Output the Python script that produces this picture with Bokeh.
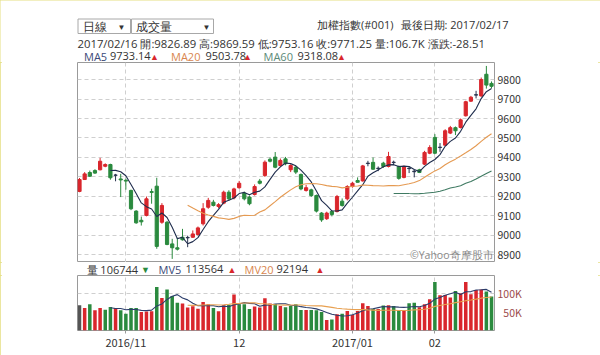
import pandas as pd
from bokeh.plotting import figure
from bokeh.models import Range1d, FixedTicker, ColumnDataSource, Label, Grid
from bokeh.layouts import column, row
from bokeh.embed import file_html
from bokeh.resources import INLINE
from bokeh.core.properties import value

# ---------------- data ----------------
dates = [
    "2016/10/19", "2016/10/20", "2016/10/21", "2016/10/24", "2016/10/25", "2016/10/26", "2016/10/27", "2016/10/28", "2016/10/31",
    "2016/11/01", "2016/11/02", "2016/11/03", "2016/11/04", "2016/11/07", "2016/11/08", "2016/11/09", "2016/11/10", "2016/11/11",
    "2016/11/14", "2016/11/15", "2016/11/16", "2016/11/17", "2016/11/18", "2016/11/21", "2016/11/22", "2016/11/23", "2016/11/24",
    "2016/11/25", "2016/11/28", "2016/11/29", "2016/11/30",
    "2016/12/01", "2016/12/02", "2016/12/05", "2016/12/06", "2016/12/07", "2016/12/08", "2016/12/09", "2016/12/12", "2016/12/13",
    "2016/12/14", "2016/12/15", "2016/12/16", "2016/12/19", "2016/12/20", "2016/12/21", "2016/12/22", "2016/12/23", "2016/12/26",
    "2016/12/27", "2016/12/28", "2016/12/29", "2016/12/30",
    "2017/01/03", "2017/01/04", "2017/01/05", "2017/01/06", "2017/01/09", "2017/01/10", "2017/01/11", "2017/01/12", "2017/01/13",
    "2017/01/16", "2017/01/17", "2017/01/18", "2017/01/19", "2017/01/20", "2017/01/23", "2017/01/24",
    "2017/02/02", "2017/02/03", "2017/02/06", "2017/02/07", "2017/02/08", "2017/02/09", "2017/02/10", "2017/02/13", "2017/02/14",
    "2017/02/15", "2017/02/16", "2017/02/17",
]

opens = [
    9226, 9287, 9323, 9333, 9337, 9355, 9364, 9310, 9290,
    9283, 9231, 9125, 9078, 9103, 9225, 9253, 9068, 9068, 8957, 8937, 8991, 8988, 8991, 9005, 9060, 9145, 9171, 9149, 9166, 9222, 9193,
    9245, 9217, 9197, 9210, 9279, 9308, 9391, 9402, 9359, 9393, 9337, 9350, 9313, 9231, 9234, 9205, 9115, 9086, 9123, 9123, 9176, 9188,
    9251, 9282, 9280, 9371, 9375, 9345, 9371, 9354, 9376, 9354, 9298, 9345, 9330, 9337, 9366, 9422,
    9503, 9453, 9463, 9525, 9553, 9554, 9614, 9689, 9720, 9716, 9826.89, 9780,
]
highs = [
    9295, 9325, 9333, 9340, 9398, 9370, 9368, 9316, 9316,
    9292, 9235, 9130, 9097, 9200, 9240, 9296, 9166, 9075, 8983, 8988, 9034, 8999, 9026, 9046, 9166, 9193, 9183, 9166, 9230, 9232, 9245,
    9280, 9225, 9205, 9262, 9290, 9385, 9400, 9428, 9395, 9403, 9365, 9358, 9318, 9260, 9240, 9210, 9120, 9122, 9130, 9208, 9190, 9258,
    9275, 9298, 9362, 9383, 9400, 9354, 9378, 9429, 9384, 9358, 9358, 9354, 9337, 9342, 9434, 9463,
    9520, 9474, 9545, 9562, 9559, 9600, 9691, 9716, 9742, 9810, 9869.59, 9790,
]
lows = [
    9222, 9285, 9300, 9316, 9334, 9350, 9286, 9278, 9197,
    9235, 9130, 9060, 9051, 9098, 9163, 8932, 9060, 8950, 8880, 8923, 8974, 8940, 8988, 9000, 9051, 9137, 9149, 9140, 9160, 9180, 9185,
    9240, 9180, 9155, 9205, 9262, 9300, 9375, 9345, 9352, 9360, 9325, 9315, 9232, 9225, 9198, 9118, 9070, 9080, 9098, 9118, 9148, 9180,
    9245, 9272, 9276, 9355, 9337, 9330, 9347, 9349, 9361, 9286, 9293, 9320, 9298, 9320, 9361, 9417,
    9417, 9429, 9460, 9520, 9515, 9549, 9610, 9685, 9703, 9711, 9753.16, 9755,
]
closes = [
    9287, 9316, 9304, 9320, 9381, 9364, 9296, 9309, 9285,
    9279, 9137, 9065, 9070, 9188, 9221, 8944, 9154, 8954, 8937, 8930, 8978, 8990, 9008, 9039, 9137, 9180, 9154, 9158, 9222, 9188, 9239,
    9268, 9188, 9163, 9251, 9268, 9376, 9381, 9350, 9385, 9368, 9359, 9325, 9239, 9245, 9205, 9125, 9080, 9115, 9108, 9200, 9154, 9251,
    9268, 9273, 9357, 9369, 9340, 9343, 9354, 9405, 9374, 9293, 9354, 9343, 9327, 9323, 9426, 9451,
    9422, 9451, 9537, 9553, 9537, 9593, 9686, 9709, 9722, 9799.76, 9771.25, 9765,
]
# volume, in K
volumes = [
    68.8, 61.5, 71.5, 55.2, 61.5, 56.9, 64.2, 61.5, 55.2,
    46.0, 61.5, 61.5, 50.5, 51.9, 52.4, 118.8, 88.8, 111.5, 94.3, 76.0, 73.3, 62.4, 66.0, 59.6, 77.9, 71.5, 61.5, 52.4, 68.8, 70.0, 97.9,
    71.5, 71.5, 58.5, 65.5, 63.0, 88.0, 73.3, 72.5, 67.0, 63.5, 67.0, 71.5, 56.0, 56.0, 56.0, 55.5, 50.5, 28.7, 29.8, 44.2, 45.5, 53.3,
    42.3, 53.3, 74.2, 67.0, 59.6, 58.3, 68.3, 69.0, 67.0, 55.5, 55.5, 74.2, 75.7, 63.7, 71.5, 85.2,
    132.5, 96.0, 96.7, 89.7, 108.0, 101.5, 132.5, 99.0, 110.6, 111.5, 106.7, 92.4,
]
# colour of each volume bar: N = first day, R = up, G = down
vol_dir = list("NRGRRGGRGG" "GGRRRGRGGG" "RRRRRRGRRG" "RGGGRRRRGR"
               "GGGGRGGGRG" "RGRRRRRGRG" "RGGRGGRRRG" "RRRGRRRRRG" "G")

price_ticks = [8900, 9000, 9100, 9200, 9300, 9400, 9500, 9600, 9700, 9800]
vol_ticks = [50, 100]
vol_tick_labels = ["\u200750K", "100K"]
month_labels = ["2016/11", "12", "2017/01", "02"]
ma_periods = [5, 20, 60]
ma_start = [6, 21, 61]   # index where each MA line begins on the picture

# ---------------- styling ----------------
TEXT = "#333333"
RED = "#d9262c"
GREEN = "#2a8a3e"
DOJI = "#2a3550"
MA_COLORS = ["#1f2d4d", "#e59a52", "#3f7a62"]
MV_COLORS = ["#2b3d6b", "#e8a050"]
GRID = "#cfcfcf"
FONT = "Open Sans"
AXFONT = "Noto Sans CJK TC"
LB, RB = 77, 106          # left / right borders of the chart panels

n = len(closes)
idx = list(range(n))
month_idx = [i for i in range(1, n) if dates[i][:7] != dates[i - 1][:7]]


def ccolor(o, c):
    if abs(c - o) < 4:
        return DOJI
    return RED if c > o else GREEN


cs = ColumnDataSource(dict(
    x=idx, o=opens, h=highs, l=lows, c=closes,
    top=[max(o, c) for o, c in zip(opens, closes)],
    bottom=[min(o, c) for o, c in zip(opens, closes)],
    color=[ccolor(o, c) for o, c in zip(opens, closes)],
))
vcol = {"N": "#555555", "R": RED, "G": GREEN}
vs = ColumnDataSource(dict(x=idx, v=volumes, color=[vcol[d] for d in vol_dir]))

xr = Range1d(-0.39, 80.58)


def text_fig(h, full=False):
    lb, rb = (0, 0) if full else (LB, RB)
    f = figure(width=600, height=h, x_range=Range1d(lb, 600 - rb), y_range=Range1d(h, 0),
               x_axis_location=None, y_axis_location=None,
               min_border_left=lb, min_border_right=rb, min_border_top=0, min_border_bottom=0,
               toolbar_location=None, output_backend="svg")
    f.outline_line_color = None
    f.grid.visible = False
    return f


def put(f, x, y, s, color=TEXT, size="11px", align="left", font=FONT):
    f.text(x=[x], y=[y], text=[s], text_color=color, text_font=value(font),
           text_font_size=size, text_baseline="middle", text_align=align)


# ---------------- header ----------------
hdr = text_fig(62, full=True)
hdr.quad(left=[77.5, 131], right=[130, 213], top=[18.5, 18.5], bottom=[33, 33],
         fill_color="white", line_color="#a8a8a8", line_width=1)
put(hdr, 82.5, 26, "日線", size="11.5px")
put(hdr, 121, 25.5, "▼", size="8px", align="center")
put(hdr, 135, 26, "成交量", size="11.5px")
put(hdr, 206, 25.5, "▼", size="8px", align="center")
put(hdr, 316.5, 24, "加權指數(#001)")
put(hdr, 400, 24, "最後日期: 2017/02/17")

info = "%s 開:%.2f 高:%.2f 低:%.2f 收:%.2f 量:106.7K 漲跌:%.2f" % (
    dates[-2], opens[-2], highs[-2], lows[-2], closes[-2], closes[-2] - closes[-3])
put(hdr, 77, 43, info, size="11.3px")

y3 = 55.5
put(hdr, 83.5, y3, "MA5", color="#3a4a78")
put(hdr, 109.5, y3, "9733.14")
put(hdr, 154, y3, "▲", color=RED, size="9px", align="center")
put(hdr, 170.5, y3, "MA20", color="#d9864e")
put(hdr, 205, y3, "9503.78")
put(hdr, 247, y3, "▲", color=RED, size="9px", align="center")
put(hdr, 263, y3, "MA60", color="#5b8a78")
put(hdr, 297, y3, "9318.08")
put(hdr, 341, y3, "▲", color=RED, size="9px", align="center")

# ---------------- price panel ----------------
p = figure(width=600, height=200, x_range=xr, y_range=Range1d(8861.5, 9887.2),
           x_axis_location=None, y_axis_location="right",
           min_border_left=LB, min_border_right=RB, min_border_top=0, min_border_bottom=0,
           toolbar_location=None, output_backend="svg")
p.outline_line_color = "#9a9a9a"
p.yaxis.ticker = FixedTicker(ticks=price_ticks)
p.yaxis.axis_line_color = None
p.yaxis.major_tick_line_color = None
p.yaxis.major_tick_out = 0
p.yaxis.major_tick_in = 0
p.yaxis.minor_tick_line_color = None
p.yaxis.major_label_text_font_size = "10.5px"
p.yaxis.major_label_text_font = AXFONT
p.yaxis.major_label_text_color = TEXT
p.yaxis.major_label_standoff = 3
p.ygrid.ticker = FixedTicker(ticks=price_ticks)
p.ygrid.grid_line_color = GRID
p.ygrid.grid_line_dash = "4 3"
p.xgrid.visible = False
p.add_layout(Grid(dimension=0, ticker=FixedTicker(ticks=month_idx),
                  grid_line_color=GRID, grid_line_dash="4 3"))

p.segment(x0="x", y0="l", x1="x", y1="h", line_color="color", line_width=1, source=cs)
p.vbar(x="x", width=0.62, top="top", bottom="bottom", fill_color="color",
       line_color="color", line_width=1, source=cs)

cl = pd.Series(closes)
for per, st, col in zip(ma_periods, ma_start, MA_COLORS):
    ma = cl.rolling(per).mean()
    p.line(idx[st:], list(ma[st:]), line_color=col, line_width=1.1)

p.add_layout(Label(x=416, y=7.5, x_units="screen", y_units="screen", text="©Yahoo奇摩股市",
                   text_font=FONT, text_font_size="10.5px", text_color="#8a8a8a",
                   text_align="right", text_baseline="middle"))

# ---------------- volume legend ----------------
mid = text_fig(13)
for x, s, col in [(86, "量 106744", TEXT), (140.5, "▼", GREEN), (158, "MV5", "#3a4a78"),
                  (185, "113564", TEXT), (227, "▲", RED), (244, "MV20", "#d9864e"),
                  (276, "92194", TEXT), (315, "▲", RED)]:
    put(mid, x, 6.5, s, color=col, size="9px" if s in "▲▼" else "11px")

# ---------------- volume panel ----------------
v = figure(width=600, height=80, x_range=xr, y_range=Range1d(0, 150),
           y_axis_location="right", x_axis_location="below",
           min_border_left=LB, min_border_right=RB, min_border_top=0, min_border_bottom=25,
           toolbar_location=None, output_backend="svg")
v.outline_line_color = "#9a9a9a"
v.vbar(x="x", width=0.68, top="v", bottom=0, fill_color="color", line_color=None, source=vs)
vl = pd.Series(volumes)
for per, st, col in zip(ma_periods[:2], ma_start[:2], MV_COLORS):
    mv = vl.rolling(per).mean()
    v.line(idx[st:], list(mv[st:]), line_color=col, line_width=1.1)

v.yaxis.ticker = FixedTicker(ticks=vol_ticks)
v.yaxis.major_label_overrides = {t: s for t, s in zip(vol_ticks, vol_tick_labels)}
v.yaxis.axis_line_color = None
v.yaxis.major_tick_line_color = None
v.yaxis.major_tick_out = 0
v.yaxis.major_tick_in = 0
v.yaxis.minor_tick_line_color = None
v.yaxis.major_label_text_font_size = "10.5px"
v.yaxis.major_label_text_font = AXFONT
v.yaxis.major_label_text_color = "#9c4c4c"
v.yaxis.major_label_standoff = 3
v.xaxis.ticker = FixedTicker(ticks=month_idx)
v.xaxis.major_label_overrides = {t: s for t, s in zip(month_idx, month_labels)}
v.xaxis.axis_line_color = None
v.xaxis.major_tick_line_color = "#9a9a9a"
v.xaxis.major_tick_in = 0
v.xaxis.major_tick_out = 3
v.xaxis.minor_tick_line_color = None
v.xaxis.major_label_text_font_size = "11px"
v.xaxis.major_label_text_font = AXFONT
v.xaxis.major_label_text_color = TEXT
v.xaxis.major_label_standoff = 0
v.ygrid.ticker = FixedTicker(ticks=[100])
v.ygrid.grid_line_color = GRID
v.ygrid.grid_line_dash = "4 3"
v.xgrid.ticker = FixedTicker(ticks=month_idx)
v.xgrid.grid_line_color = GRID
v.xgrid.grid_line_dash = "4 3"

layout = column(row(hdr), p, mid, v, spacing=0,
                styles={"outline": "2px solid #e4de80", "outline-offset": "-2px"})
open("out.html", "w").write(file_html(layout, INLINE))
